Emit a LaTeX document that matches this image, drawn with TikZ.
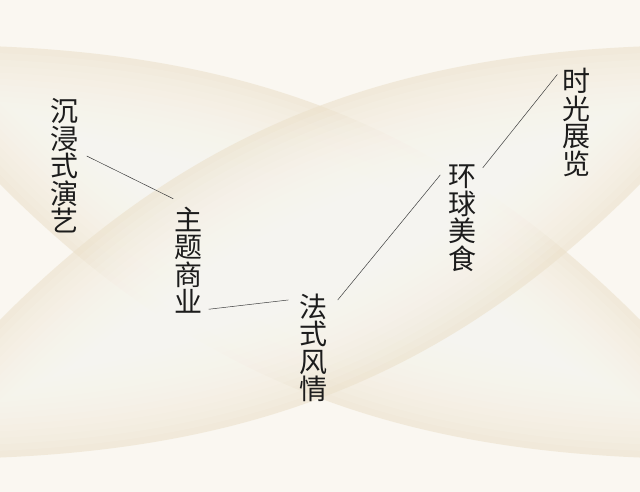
\documentclass[tikz,border=0pt]{standalone}
\usepackage{fontspec}
\newfontfamily\cjk{Noto Sans CJK SC}
\usepackage{tikz}

\definecolor{paper}{RGB}{250,247,241}
\definecolor{lenslight}{RGB}{253,252,248}
\definecolor{lensdark}{RGB}{236,225,203}
\definecolor{ink}{RGB}{28,28,28}

\begin{document}
\begin{tikzpicture}[x=1pt, y=1pt, node distance=124pt]
        \tikzstyle{tag} = [align=center, inner sep=0pt, text=ink, font=\cjk\fontsize{28}{27.5}\selectfont]
        \tikzstyle{link} = [draw=ink!85, line width=0.5pt]
        \tikzstyle{leafbase} = [fill=lensdark, fill opacity=0.6]
        \tikzstyle{leafglow} = [fill=lenslight, fill opacity=0.12]

        \useasboundingbox (0,0) rectangle (640,492);
        \fill [paper] (0,0) rectangle (640,492);

        % two crossed leaves behind the text
        \foreach \ang in {-25,25} {
            \begin{scope}[shift={(320,240)}, rotate=\ang]
                \fill [leafbase] (-488,0) .. controls (-127,180) and (127,180) .. (488,0) .. controls (127,-180) and (-127,-180) .. (-488,0) -- cycle;
                \foreach \s in {0.95,0.9,...,0.15} {
                    \fill [leafglow, xscale=0.4+0.6*\s, yscale=\s] (-488,0) .. controls (-127,180) and (127,180) .. (488,0) .. controls (127,-180) and (-127,-180) .. (-488,0) -- cycle;
                }
            \end{scope}
        }

        \node (chenjin) [tag] at (64,326) {沉\\浸\\式\\演\\艺};
        \node (zhuti) [tag, right of=chenjin, yshift=-94pt] {主\\题\\商\\业};
        \node (fashi) [tag, right of=zhuti, xshift=1pt, yshift=-88pt] {法\\式\\风\\情};
        \node (huanqiu) [tag, right of=fashi, xshift=25pt, yshift=130pt] {环\\球\\美\\食};
        \node (shiguang) [tag, right of=huanqiu, xshift=-10pt, yshift=95.5pt] {时\\光\\展\\览};

        \draw [link] ([xshift=8.5pt, yshift=10pt]chenjin.east) -- ([xshift=-0.5pt, yshift=7.7pt]zhuti.north west);
        \draw [link] ([xshift=6.5pt, yshift=4.3pt]zhuti.south east) -- ([xshift=-10.5pt, yshift=-6.3pt]fashi.north west);
        \draw [link] ([xshift=10.5pt, yshift=-6.3pt]fashi.north east) -- ([xshift=-7.5pt, yshift=-10.3pt]huanqiu.north west);
        \draw [link] ([xshift=6.5pt, yshift=-3.3pt]huanqiu.north east) -- ([xshift=-4.5pt, yshift=-6.3pt]shiguang.north west);
    \end{tikzpicture}
\end{document}
